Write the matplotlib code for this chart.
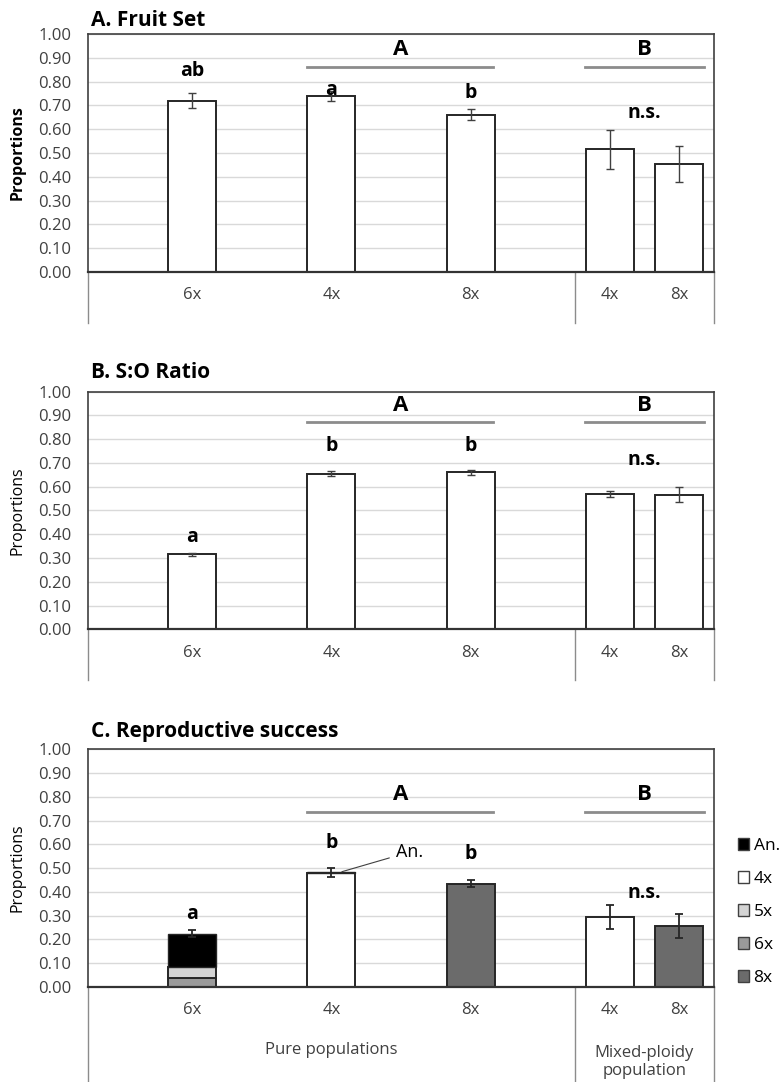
import matplotlib
matplotlib.use("Agg")
import matplotlib.pyplot as plt
import matplotlib.transforms as mtransforms
from matplotlib.patches import Patch

plt.rcParams['font.family'] = ['Open Sans', 'DejaVu Sans']

# categories: 9 slots on the x axis, bars sit in slots 1,3,5 (pure) and 7,8 (mixed)
positions = [1, 3, 5, 7, 8]
tick_labels = ['6x', '4x', '8x', '4x', '8x']

# A. Fruit set
fruit_set = [0.72, 0.74, 0.66, 0.515, 0.455]
fruit_err = [0.033, 0.022, 0.023, 0.083, 0.075]

# B. S:O ratio
so_ratio = [0.315, 0.655, 0.66, 0.57, 0.567]
so_err = [0.007, 0.010, 0.012, 0.014, 0.030]

# C. Reproductive success, stacked by offspring ploidy
rs_6x = [0.037, 0, 0, 0, 0]
rs_5x = [0.048, 0, 0, 0, 0]
rs_8x = [0, 0, 0.435, 0, 0.257]
rs_4x = [0, 0.478, 0, 0.293, 0]
rs_an = [0.140, 0.005, 0, 0, 0]
rs_err = [0.013, 0.019, 0.016, 0.050, 0.050]

# significance letters
letters_a = ['ab', 'a', 'b']
letters_a_y = [0.845, 0.765, 0.75]
letters_b = ['a', 'b', 'b']
letters_b_y = [0.39, 0.77, 0.77]
letters_c = ['a', 'b', 'b']
letters_c_y = [0.306, 0.605, 0.56]

col = {'An.': '#000000', '4x': '#ffffff', '5x': '#d4d4d4', '6x': '#9a9a9a', '8x': '#6b6b6b'}
edge = '#262626'

fig = plt.figure(figsize=(7.83, 10.82), dpi=100)

W, H = 783.0, 1082.0
left, width = 88 / W, 626 / W


def setup(ax, ext):
    ax.set_xlim(-0.5, 8.5)
    ax.set_ylim(0, 1)
    ax.set_yticks([i / 10 for i in range(11)])
    ax.set_yticklabels(['%.2f' % (i / 10) for i in range(11)])
    ax.yaxis.grid(True, color='#d9d9d9', lw=1)
    ax.set_axisbelow(True)
    ax.tick_params(axis='y', length=0, pad=12, labelsize=12, labelcolor='#404040')
    ax.set_xticks(positions)
    ax.set_xticklabels(tick_labels)
    ax.tick_params(axis='x', length=0, pad=11, labelsize=12, labelcolor='#404040')
    for s in ['top', 'right', 'left']:
        ax.spines[s].set_color('#404040')
        ax.spines[s].set_linewidth(1.2)
    ax.spines['bottom'].set_color('#333333')
    ax.spines['bottom'].set_linewidth(1.6)
    # category box lines under the axis
    tr = mtransforms.blended_transform_factory(ax.transData, ax.transAxes)
    for x in [-0.5, 6.5, 8.5]:
        ax.plot([x, x], [0, -ext], color='#8c8c8c', lw=1, transform=tr, clip_on=False)


def groups(ax, ytext, yline, letters, letters_y, ns_y):
    ax.text(4, ytext, 'A', ha='center', va='center', fontsize=16, fontweight='bold')
    ax.text(7.5, ytext, 'B', ha='center', va='center', fontsize=16, fontweight='bold')
    ax.plot([2.65, 5.32], [yline, yline], color='#8c8c8c', lw=2)
    ax.plot([6.65, 8.36], [yline, yline], color='#8c8c8c', lw=2)
    for x, t, y in zip(positions[:3], letters, letters_y):
        ax.text(x, y, t, ha='center', va='center', fontsize=14, fontweight='bold')
    ax.text(7.5, ns_y, 'n.s.', ha='center', va='center', fontsize=14, fontweight='bold')


def title(ypix, txt):
    fig.text(91 / W, 1 - ypix / H, txt, ha='left', va='center', fontsize=15, fontweight='bold')


def ylabel(ax, bold=False):
    fig.text(18 / W, 0.5 * (ax.get_position().y0 + ax.get_position().y1), 'Proportions',
             rotation=90, ha='center', va='center', fontsize=11.5,
             fontweight='bold' if bold else 'normal')


bw = 0.69
ekw = dict(ecolor='#404040', elinewidth=1, capsize=3, capthick=1)

# ---- A. Fruit Set
axA = fig.add_axes([left, 1 - 272 / H, width, 238 / H])
setup(axA, 0.214)
axA.bar(positions, fruit_set, bw, color='white', edgecolor=edge, lw=1.4)
axA.errorbar(positions, fruit_set, yerr=fruit_err, fmt='none', **ekw)
groups(axA, 0.933, 0.862, letters_a, letters_a_y, 0.67)
title(20, 'A. Fruit Set')
ylabel(axA, bold=True)

# ---- B. S:O Ratio
axB = fig.add_axes([left, 1 - 629.3 / H, width, 237.6 / H])
setup(axB, 0.214)
axB.bar(positions, so_ratio, bw, color='white', edgecolor=edge, lw=1.4)
axB.errorbar(positions, so_ratio, yerr=so_err, fmt='none', **ekw)
groups(axB, 0.944, 0.874, letters_b, letters_b_y, 0.713)
title(373, 'B. S:O Ratio')
ylabel(axB)

# ---- C. Reproductive success
axC = fig.add_axes([left, 1 - 987 / H, width, 237.7 / H])
setup(axC, 0.40)
bottom = [0.0] * 5
for name, vals in [('6x', rs_6x), ('5x', rs_5x), ('8x', rs_8x), ('4x', rs_4x), ('An.', rs_an)]:
    xs = [p for p, v in zip(positions, vals) if v > 0]
    hs = [v for v in vals if v > 0]
    bs = [b for b, v in zip(bottom, vals) if v > 0]
    axC.bar(xs, hs, bw, bottom=bs, color=col[name], edgecolor=edge, lw=1.4 if name != 'An.' or len(xs) == 1 else 1.0)
    bottom = [b + v for b, v in zip(bottom, vals)]
axC.errorbar(positions, bottom, yerr=rs_err, fmt='none', ecolor='#262626', elinewidth=1.3, capsize=3, capthick=1.3)
axC.annotate('An.', xy=(3.15, 0.485), xytext=(3.93, 0.568), fontsize=13, va='center', ha='left',
             arrowprops=dict(arrowstyle='-', color='#404040', lw=0.8, shrinkA=3, shrinkB=0))
groups(axC, 0.81, 0.735, letters_c, letters_c_y, 0.397)
title(731, 'C. Reproductive success')
ylabel(axC)

trC = mtransforms.blended_transform_factory(axC.transData, axC.transAxes)
axC.text(3, -0.265, 'Pure populations', transform=trC, ha='center', va='center', fontsize=12, color='#404040')
axC.text(7.5, -0.315, 'Mixed-ploidy\npopulation', transform=trC, ha='center', va='center',
         fontsize=12, color='#404040', linespacing=1.2)

# legend
handles = [Patch(facecolor=col[k], edgecolor='#404040', lw=1) for k in ['An.', '4x', '5x', '6x', '8x']]
fig.legend(handles, ['An.', '4x', '5x', '6x', '8x'], loc='upper left',
           bbox_to_anchor=(738 / W, 1 - 838 / H), frameon=False, fontsize=12.5,
           handlelength=0.65, handleheight=0.65, handletextpad=0.25, labelspacing=0.98,
           borderaxespad=0, borderpad=0)

fig.savefig('out.png', dpi=100)
